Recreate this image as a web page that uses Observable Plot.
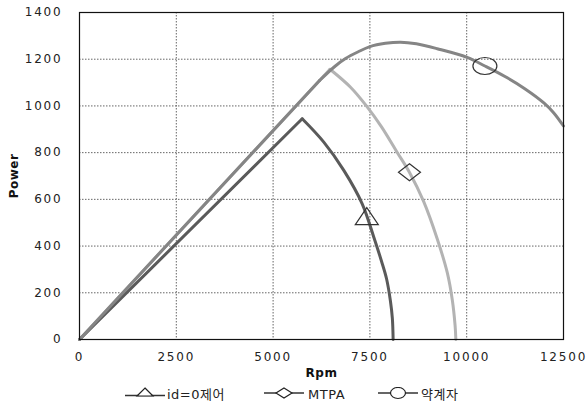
<!DOCTYPE html>
<html>
<head>
<meta charset="utf-8">
<script src="https://cdn.jsdelivr.net/npm/d3@7"></script>
<script src="https://cdn.jsdelivr.net/npm/@observablehq/plot@0.6"></script>
<style>
  html, body { margin: 0; padding: 0; background: #fff; }
  #wrap { position: relative; width: 588px; height: 412px; overflow: hidden; }
  #chart svg { display: block; overflow: visible; }
  #chart text { font-family: "DejaVu Sans", Verdana, sans-serif; }
  .tick-label text { letter-spacing: 1.8px; }
  #legend { position: absolute; left: 0; top: 380px; width: 588px; height: 32px; }
  #legend .sample { position: absolute; top: 7px; }
  #legend .lab { position: absolute; top: 6px; font: 13px "DejaVu Sans", "Noto Sans CJK KR", sans-serif; color: #222; line-height: 18px; white-space: nowrap; letter-spacing: 0.5px; }
</style>
</head>
<body>
<div id="wrap">
  <div id="chart"></div>
  <div id="legend"></div>
</div>
<script>
// ---- data ----
const seriesNames = ["id=0제어", "MTPA", "약계자"];

const rpmId0 = [0, 5752, 6309, 6826, 7301, 7601, 7800, 7930, 8030, 8080, 8100];
const powId0 = [0, 945, 845, 724, 581, 438, 335, 260, 165, 90, 0];

const rpmMtpa = [0, 6470, 7000, 7410, 7800, 8190, 8520, 8890, 9240, 9500, 9630, 9700, 9720];
const powMtpa = [0, 1157, 1080, 1000, 910, 805, 716, 590, 430, 285, 167, 60, 0];

const rpmFw = [0, 6200, 6600, 6870, 7200, 7500, 7900, 8290, 8700, 9240, 10010, 10470, 11000, 11500, 12000, 12250, 12500];
const powFw = [0, 1109, 1170, 1203, 1232, 1254, 1268, 1273, 1266, 1245, 1208, 1171, 1125, 1074, 1012, 970, 914];

// one marker per series
const markerRpm = [7420, 8522, 10470];
const markerPow = [528, 716, 1171];

const xTicks = [0, 2500, 5000, 7500, 10000, 12500];
const yTicks = [0, 200, 400, 600, 800, 1000, 1200, 1400];

// ---- build tables: rising segment (first two points) + curved segment ----
const toRows = (xs, ys, name) => xs.flatMap((x, i) => {
  const rows = [];
  if (i <= 1) rows.push({rpm: x, power: ys[i], series: name, part: "rise"});
  if (i >= 1) rows.push({rpm: x, power: ys[i], series: name, part: "fall"});
  return rows;
});
const id0 = toRows(rpmId0, powId0, seriesNames[0]);
const mtpa = toRows(rpmMtpa, powMtpa, seriesNames[1]);
const fw = toRows(rpmFw, powFw, seriesNames[2]);
const markers = markerRpm.map((x, i) => ({rpm: x, power: markerPow[i], series: seriesNames[i]}));

// custom stretched marker symbols (horizontally wide, like the reference)
function triSym(w, h) {
  return {draw(ctx) { ctx.moveTo(0, -h / 2); ctx.lineTo(w / 2, h / 2); ctx.lineTo(-w / 2, h / 2); ctx.closePath(); }};
}
function diaSym(w, h) {
  return {draw(ctx) { ctx.moveTo(0, -h / 2); ctx.lineTo(w / 2, 0); ctx.lineTo(0, h / 2); ctx.lineTo(-w / 2, 0); ctx.closePath(); }};
}
function ellSym(rx, ry) {
  const k = 0.5523;
  return {draw(ctx) {
    ctx.moveTo(rx, 0);
    ctx.bezierCurveTo(rx, ry * k, rx * k, ry, 0, ry);
    ctx.bezierCurveTo(-rx * k, ry, -rx, ry * k, -rx, 0);
    ctx.bezierCurveTo(-rx, -ry * k, -rx * k, -ry, 0, -ry);
    ctx.bezierCurveTo(rx * k, -ry, rx, -ry * k, rx, 0);
    ctx.closePath();
  }};
}
const bigSyms = [triSym(23, 17), diaSym(22, 17), ellSym(12, 8.5)];

const colors = ["#5a5a5a", "#b3b3b3", "#858585"];
const fmt = d => String(d);

const plot = Plot.plot({
  width: 588,
  height: 380,
  marginLeft: 79,
  marginRight: 25,
  marginTop: 12,
  marginBottom: 41,
  style: {fontSize: "12px", color: "#222", background: "#fff", overflow: "visible"},
  x: {domain: [0, 12500], ticks: xTicks},
  y: {domain: [0, 1400], ticks: yTicks},
  marks: [
    Plot.gridX(xTicks, {stroke: "#666", strokeOpacity: 1, strokeDasharray: "1.5,1.5", strokeWidth: 1}),
    Plot.gridY(yTicks, {stroke: "#666", strokeOpacity: 1, strokeDasharray: "1.5,1.5", strokeWidth: 1}),
    Plot.axisX(xTicks, {tickSize: 0, tickPadding: 13, tickFormat: fmt, label: "Rpm", labelArrow: "none", labelAnchor: "center", labelOffset: 37, className: "tick-label"}),
    Plot.axisY(yTicks, {tickSize: 0, tickPadding: 17, tickFormat: fmt, label: "Power", labelArrow: "none", labelAnchor: "center", labelOffset: 70, className: "tick-label"}),
    Plot.line(mtpa, {x: "rpm", y: "power", z: "part", stroke: colors[1], strokeWidth: 3, curve: "catmull-rom"}),
    Plot.line(id0, {x: "rpm", y: "power", z: "part", stroke: colors[0], strokeWidth: 3, curve: "catmull-rom"}),
    Plot.line(fw, {x: "rpm", y: "power", z: "part", stroke: colors[2], strokeWidth: 3, curve: "catmull-rom"}),
    ...markers.map((m, i) => Plot.dot([m], {x: "rpm", y: "power", symbol: bigSyms[i], r: 5, fill: "none", stroke: "#333", strokeWidth: 1.2})),
    Plot.frame({stroke: "#111", strokeWidth: 1.2})
  ]
});
document.getElementById("chart").appendChild(plot);

// bold axis labels (not tick labels)
plot.querySelectorAll('[aria-label="x-axis label"] text, [aria-label="y-axis label"] text').forEach(t => {
  t.style.fontWeight = "bold";
  t.style.letterSpacing = "0.5px";
  t.style.fontSize = "12px";
  t.setAttribute("fill", "#111");
});

// ---- legend below the chart ----
const legend = document.getElementById("legend");
const legendPos = [{s: 125, t: 167}, {s: 264, t: 308}, {s: 378, t: 421}];
const ns = "http://www.w3.org/2000/svg";
const smallPaths = [
  "M20,1 L28,9 L12,9 Z",
  "M20,1 L28,6 L20,11 L12,6 Z",
  null
];
seriesNames.forEach((name, i) => {
  const svg = document.createElementNS(ns, "svg");
  svg.setAttribute("width", 40); svg.setAttribute("height", 14);
  svg.setAttribute("class", "sample");
  svg.style.left = legendPos[i].s + "px";
  const ln = document.createElementNS(ns, "line");
  ln.setAttribute("x1", 0); ln.setAttribute("x2", 40);
  ln.setAttribute("y1", i === 0 ? 8.5 : 6); ln.setAttribute("y2", i === 0 ? 8.5 : 6);
  ln.setAttribute("stroke", "#333"); ln.setAttribute("stroke-width", 1.5);
  svg.appendChild(ln);
  let mk;
  if (smallPaths[i]) {
    mk = document.createElementNS(ns, "path");
    mk.setAttribute("d", smallPaths[i]);
  } else {
    mk = document.createElementNS(ns, "ellipse");
    mk.setAttribute("cx", 20); mk.setAttribute("cy", 6);
    mk.setAttribute("rx", 7.5); mk.setAttribute("ry", 5.5);
  }
  mk.setAttribute("fill", "#fff"); mk.setAttribute("stroke", "#222"); mk.setAttribute("stroke-width", 1.2);
  svg.appendChild(mk);
  legend.appendChild(svg);
  const lab = document.createElement("div");
  lab.className = "lab";
  lab.style.left = legendPos[i].t + "px";
  lab.textContent = name;
  legend.appendChild(lab);
});
</script>
</body>
</html>
